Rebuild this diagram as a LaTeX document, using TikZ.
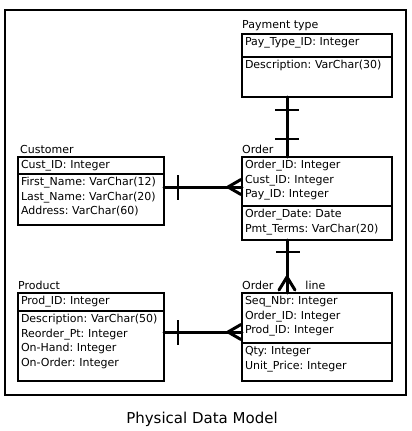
\documentclass[tikz,border=0pt]{standalone}
\usepackage{fontspec}
\setmainfont{DejaVu Sans}
\frenchspacing
\usetikzlibrary{positioning, calc}

\begin{document}
\begin{tikzpicture}[x=1pt, y=-1pt,
    part/.style={draw, line width=1.4pt, outer sep=0pt, anchor=north west, align=left, inner xsep=3pt, inner ysep=3pt, text height=8.5pt, font=\fontsize{11}{14.7}\selectfont},
    narrow/.style={text width=140pt},
    wide/.style={text width=144pt},
    title/.style={inner sep=0pt, font=\fontsize{11}{13}\selectfont},
    conn/.style={line width=3pt, line cap=round, line join=round},
    tick/.style={line width=1.1pt}
]
\useasboundingbox (0,0) rectangle (412,431);
\draw[line width=1.5pt] (5,10) rectangle (406,395);

% entities
\node[part, wide, text depth=8.5pt] (pay-k) at (242,34) {Pay\_Type\_ID: Integer};
\node[part, wide, text depth=25.5pt, below=0pt of pay-k] (pay-a) {Description: VarChar(30)};

\node[part, narrow, text depth=2.5pt] (cust-k) at (18,157) {Cust\_ID: Integer};
\node[part, narrow, text depth=36.5pt, below=0pt of cust-k] (cust-a) {First\_Name: VarChar(12)\\Last\_Name: VarChar(20)\\Address: VarChar(60)};

\node[part, wide, text depth=34.5pt] (order-k) at (242,157) {Order\_ID: Integer\\Cust\_ID: Integer\\Pay\_ID: Integer};
\node[part, wide, text depth=19.5pt, below=0pt of order-k] (order-a) {Order\_Date: Date\\Pmt\_Terms: VarChar(20)};

\node[part, narrow, text depth=3.5pt] (prod-k) at (18,293) {Prod\_ID: Integer};
\node[part, narrow, text depth=55.5pt, below=0pt of prod-k] (prod-a) {Description: VarChar(50)\\Reorder\_Pt: Integer\\On-Hand: Integer\\On-Order: Integer};

\node[part, wide, text depth=35.5pt] (line-k) at (242,293) {Seq\_Nbr: Integer\\Order\_ID: Integer\\Prod\_ID: Integer};
\node[part, wide, text depth=23.5pt, below=0pt of line-k] (line-a) {Qty: Integer\\Unit\_Price: Integer};

% titles
\node[title, above right=3pt and 0pt of pay-k.north west] (pay-t) {Payment type};
\node[title, above right=3pt and 2pt of cust-k.north west] (cust-t) {Customer};
\node[title, above right=3pt and 0pt of order-k.north west] (order-t) {Order};
\node[title, above right=3pt and 0pt of prod-k.north west] (prod-t) {Product};
\node[title, above right=3pt and 0pt of line-k.north west] (line-t) {Order\hspace{32pt}line};

\node[font=\fontsize{15}{18}\selectfont] (caption) at (202,419) {Physical Data Model};

% relationships
\coordinate (vx) at (287,0);
\coordinate (cy) at (0,187);
\coordinate (py) at (0,332);

\draw[conn] (pay-a.south -| vx) -- (order-k.north -| vx);
\draw[tick] ($(pay-a.south -| vx)+(-12,13)$) -- ++(24,0);
\draw[tick] ($(order-k.north -| vx)+(-12,-18)$) -- ++(24,0);

\draw[conn] (cust-a.east |- cy) -- (order-k.west |- cy);
\draw[tick] ($(cust-a.east |- cy)+(14,-12)$) -- ++(0,25);
\draw[conn] ($(order-k.west |- cy)+(-1,-7.5)$) -- ++(-13,7.5) -- ++(13,7.5);

\draw[conn] (order-a.south -| vx) -- (line-k.north -| vx);
\draw[tick] ($(order-a.south -| vx)+(-11,12)$) -- ++(24,0);
\draw[conn] ($(line-k.north -| vx)+(-8,-3)$) -- ++(8,-13) -- ++(8,13);

\draw[conn] (prod-a.east |- py) -- (line-k.west |- py);
\draw[tick] ($(prod-a.east |- py)+(14,-12)$) -- ++(0,25);
\draw[conn] ($(line-k.west |- py)+(-1,-7.5)$) -- ++(-13,7.5) -- ++(13,7.5);
\end{tikzpicture}
\end{document}
